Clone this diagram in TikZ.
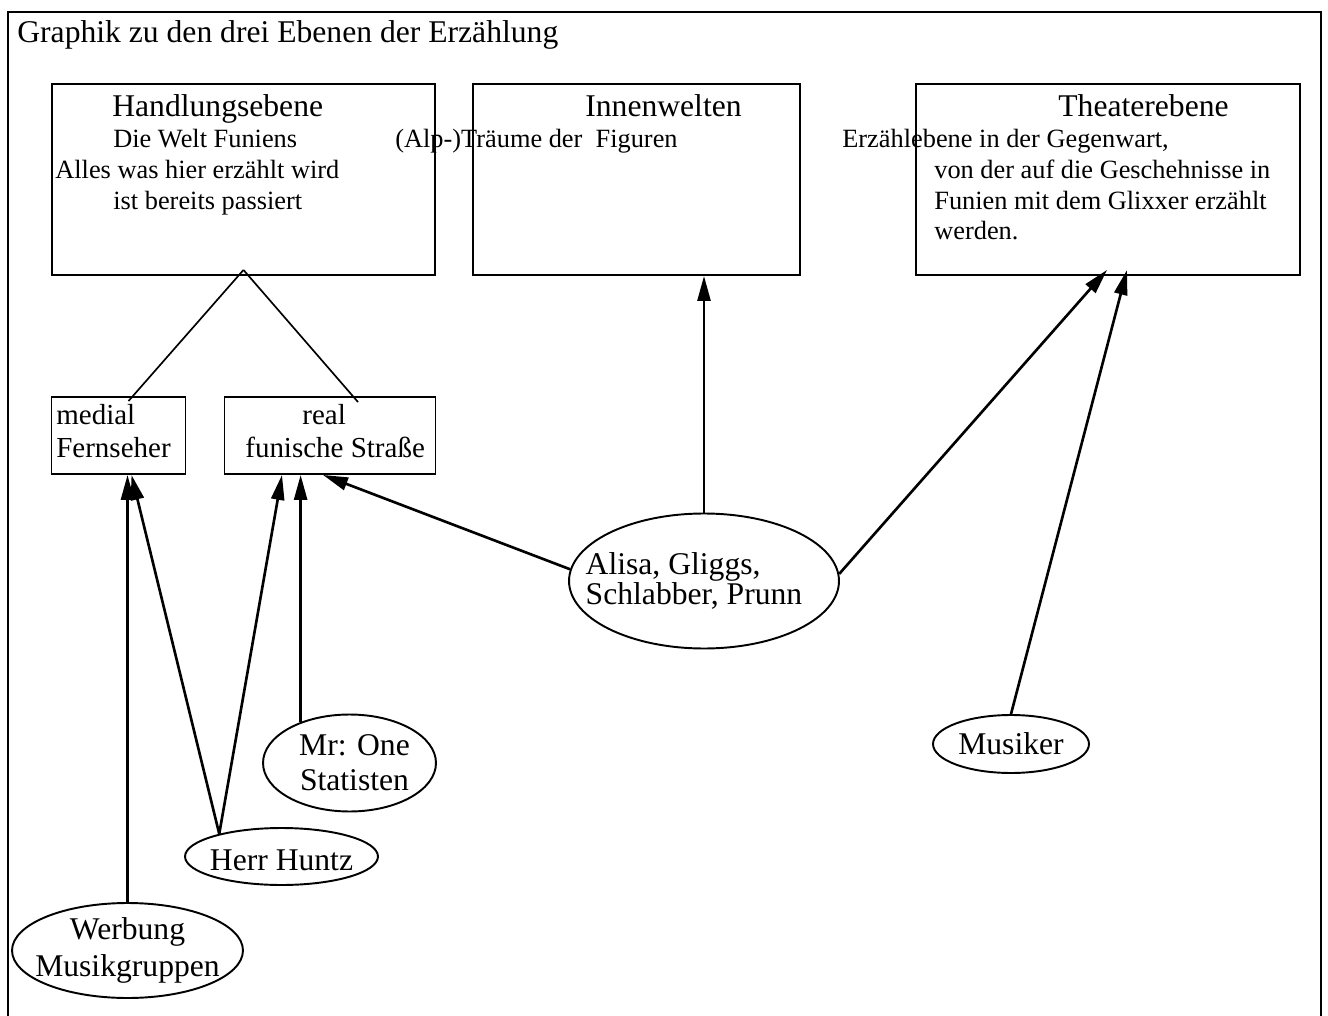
\documentclass[tikz,border=0pt]{standalone}
\usepackage{fontspec}
\setmainfont{Liberation Serif}
\usetikzlibrary{shapes.geometric,arrows.meta,calc}
\tikzset{
  ebene/.style={shape=rectangle,draw,line width=1.1pt,inner sep=0pt},
  figur/.style={shape=ellipse,draw,line width=1.1pt,inner sep=0pt},
  figtext/.style={inner sep=0pt,align=center,font=\fontsize{18}{20}\selectfont},
  kopf/.style={anchor=base west,inner sep=0pt,font=\fontsize{18}{22}\selectfont},
  zeile/.style={anchor=base west,inner sep=0pt,font=\fontsize{15}{18}\selectfont},
  klein/.style={anchor=base west,inner sep=0pt,font=\fontsize{16.5}{20}\selectfont},
  pfeil/.style={-{Triangle[length=0.5cm,width=0.26cm]},line width=1.5pt},
}
\begin{document}
\begin{tikzpicture}[x=0.02cm,y=-0.02cm]
\useasboundingbox (0,0) rectangle (1328,1016);
\draw[line width=1.4pt] (8,12) rectangle (1321,1030);
\node(titel) at (17,43)[kopf]{Graphik zu den drei Ebenen der Erzählung};

% die drei Ebenen
\node(hand)    at (243.5,179.5)[ebene,minimum width=7.66cm,minimum height=3.82cm]{};
\node(innen)   at (636.5,179.5)[ebene,minimum width=6.54cm,minimum height=3.82cm]{};
\node(theater) at (1108,179.5)[ebene,minimum width=7.68cm,minimum height=3.82cm]{};

\node(hand0) at (112,117)[kopf]{Handlungsebene};
\node(hand1) at (113,148)[zeile]{Die Welt Funiens};
\node(hand2) at (55,179)[zeile]{Alles was hier erzählt wird};
\node(hand3) at (113,210)[zeile]{ist bereits passiert};

\node(innen0) at (585,117)[kopf]{Innenwelten};
\node(innen1) at (395,148)[zeile]{(Alp-)Träume der~~Figuren};

\node(theater0) at (1058,117)[kopf]{Theaterebene};
\node(theater1) at (842,148)[zeile]{Erzählebene in der Gegenwart,};
\node(theater2) at (934,179)[zeile]{von der auf die Geschehnisse in};
\node(theater3) at (934,210)[zeile]{Funien mit dem Glixxer erzählt};
\node(theater4) at (934,240)[zeile]{werden.};

% medial / real
\node(medial) at (118.5,435.5)[ebene,minimum width=2.68cm,minimum height=1.54cm]{};
\node(real)   at (330,435.5)[ebene,minimum width=4.22cm,minimum height=1.54cm]{};
\node(medial0) at (56,425)[klein]{medial};
\node(medial1) at (56,458)[klein]{Fernseher};
\node(real0)   at (302,425)[klein]{real};
\node(real1)   at (245,458)[klein]{funische Straße};

% Figuren
\node(alisa)   at (704,581)[figur,minimum width=5.4cm,minimum height=2.7cm,
  label={[figtext,align=left,xshift=-0.2cm,font=\fontsize{18}{17}\selectfont]center:{Alisa, Gliggs,\\Schlabber, Prunn}}]{};
\node(musiker) at (1011,744)[figur,minimum width=3.12cm,minimum height=1.16cm,
  label={[figtext]center:{Musiker}}]{};
\node(mrone)   at (349.5,763)[figur,minimum width=3.46cm,minimum height=1.94cm,
  label={[figtext,xshift=0.1cm]center:{Mr: One\\Statisten}}]{};
\node(huntz)   at (281.5,856.5)[figur,minimum width=3.86cm,minimum height=1.14cm,
  label={[figtext,yshift=-0.08cm]center:{Herr Huntz}}]{};
\node(werbung) at (127.5,950.5)[figur,minimum width=4.62cm,minimum height=1.9cm,
  label={[figtext,font=\fontsize{18}{21}\selectfont]center:{Werbung\\Musikgruppen}}]{};

\coordinate(spitze) at ($(hand.south)+(0,-6)$);
\path [line width=0.95pt]
  (spitze)  edge  ($(medial.north)+(10,5)$)
  (spitze)  edge  ($(real.north)+(28,6)$);

\path [pfeil]
  (alisa.north)   edge  (alisa.north |- innen.south)
  (alisa.175)     edge  ($(real.south)+(-7,0)$)
  (alisa.3)       edge  ($(theater.south)+(-1,-6)$)
  (musiker.north) edge  ($(theater.south)+(19,-6)$)
  (mrone.140)     edge  (mrone.140 |- real.south)
  (huntz.160)     edge  ($(medial.south)+(13,0)$)
  (huntz.160)     edge  ($(real.south)+(-48,0)$)
  (werbung.north) edge  (werbung.north |- medial.south);

\end{tikzpicture}
\end{document}
